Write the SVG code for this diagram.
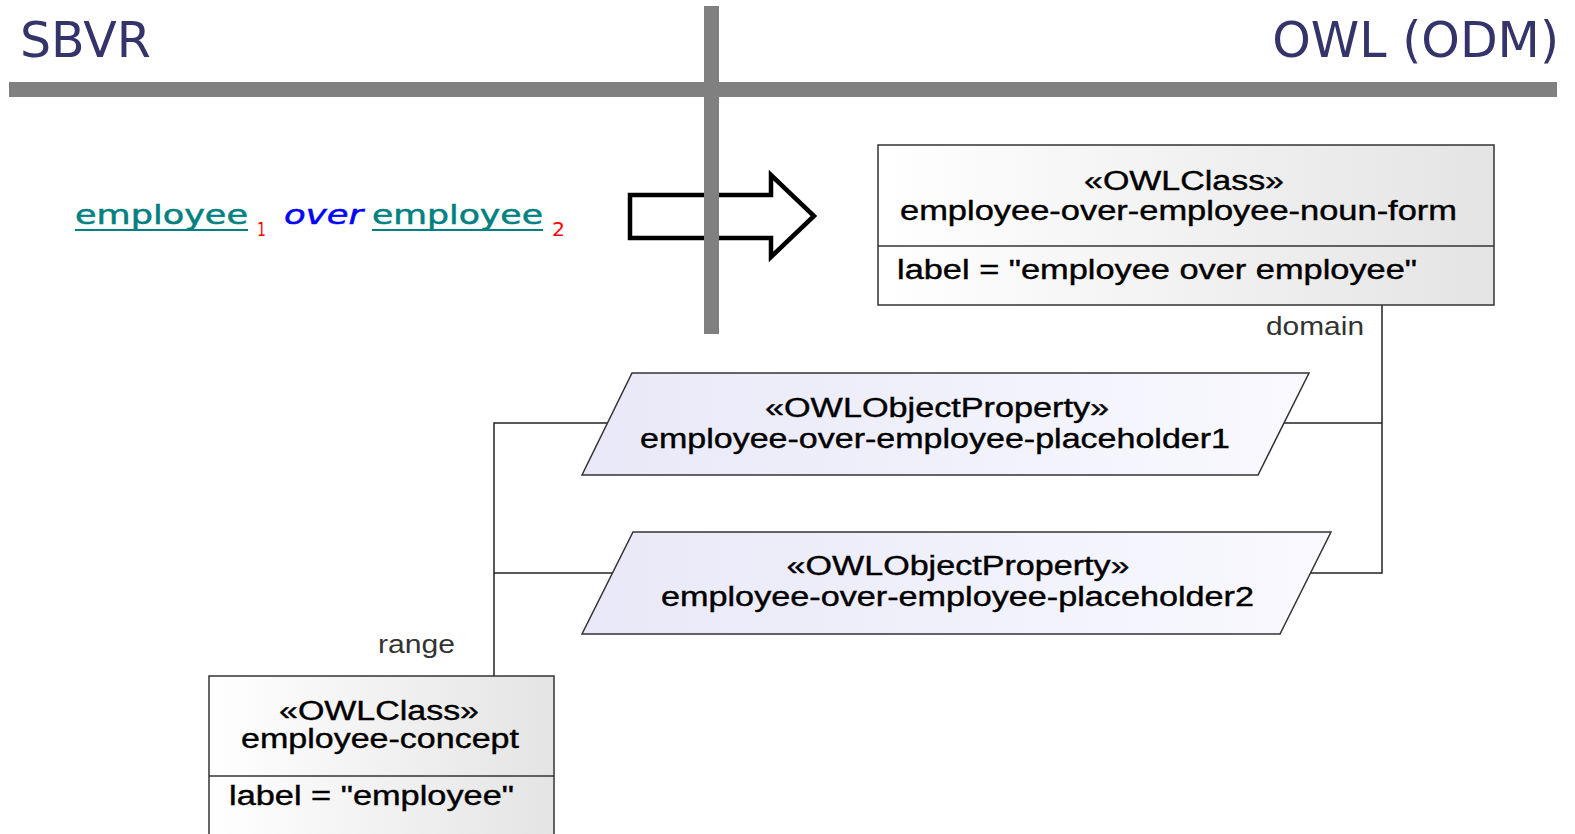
<svg xmlns="http://www.w3.org/2000/svg" width="1575" height="834" viewBox="0 0 1575 834">
<style>
.hdr{font-family:"DejaVu Sans",Verdana,sans-serif;font-size:49px;fill:#34346a}
.uml{font-family:"Liberation Sans",Arial,sans-serif;font-size:27px;fill:#000;stroke:#000;stroke-width:0.4}
.role{font-family:"Liberation Sans",Arial,sans-serif;font-size:25px;fill:#333}
.box{stroke:#333;stroke-width:1.5}
.conn{fill:none;stroke:#222;stroke-width:1.5}
.sb{font-family:"DejaVu Sans",Verdana,sans-serif;font-size:27px;stroke-width:0.5}
.sub{font-family:"DejaVu Sans",Verdana,sans-serif;font-size:20px;fill:#ff0000}
</style>
<defs>
<linearGradient id="gc" x1="0" y1="0" x2="1" y2="0">
<stop offset="0" stop-color="#ffffff"/>
<stop offset="1" stop-color="#e4e4e4"/>
</linearGradient>
<linearGradient id="gp" x1="0" y1="0" x2="1" y2="0">
<stop offset="0" stop-color="#e8e8f8"/>
<stop offset="1" stop-color="#f9f9fe"/>
</linearGradient>
</defs>

<g id="header">
<text class="hdr" x="20" y="57">SBVR</text>
<text class="hdr" x="1559" y="57" text-anchor="end">OWL (ODM)</text>
<rect x="9" y="82" width="1548" height="15" fill="#808080"/>
</g>

<g id="sbvr-expression">
<text class="sb" x="75" y="224" fill="#008080" stroke="#008080" textLength="173" lengthAdjust="spacingAndGlyphs">employee</text>
<line x1="75" y1="230" x2="248" y2="230" stroke="#008080" stroke-width="2"/>
<text class="sub" x="257" y="236" textLength="9" lengthAdjust="spacingAndGlyphs">1</text>
<text class="sb" x="284" y="224" fill="#0000ff" stroke="#0000ff" font-style="italic" textLength="79" lengthAdjust="spacingAndGlyphs">over</text>
<text class="sb" x="372" y="224" fill="#008080" stroke="#008080" textLength="171" lengthAdjust="spacingAndGlyphs">employee</text>
<line x1="372" y1="230" x2="543" y2="230" stroke="#008080" stroke-width="2"/>
<text class="sub" x="552" y="236" textLength="13" lengthAdjust="spacingAndGlyphs">2</text>
</g>

<g id="transform-arrow">
<path d="M630 195 H771 V175 L814 216 L771 257 V238 H630 Z" fill="#fff" stroke="#000" stroke-width="4.5" stroke-linejoin="miter"/>
</g>

<g id="divider">
<rect x="704" y="6" width="15" height="328" fill="#808080"/>
</g>

<g id="connectors">
<polyline class="conn" points="1382,305 1382,573 1308,573"/>
<line class="conn" x1="1283" y1="423" x2="1382" y2="423"/>
<polyline class="conn" points="607,423 494,423 494,676"/>
<line class="conn" x1="494" y1="573" x2="612" y2="573"/>
<text class="role" x="1364" y="335" text-anchor="end" textLength="98" lengthAdjust="spacingAndGlyphs">domain</text>
<text class="role" x="455" y="653" text-anchor="end" textLength="77" lengthAdjust="spacingAndGlyphs">range</text>
</g>

<g id="class-noun-form">
<rect class="box" x="878" y="145" width="616" height="160" fill="url(#gc)"/>
<line class="box" x1="878" y1="246" x2="1494" y2="246"/>
<text class="uml" x="1184" y="190" text-anchor="middle" textLength="200" lengthAdjust="spacingAndGlyphs">«OWLClass»</text>
<text class="uml" x="900" y="220" textLength="557" lengthAdjust="spacingAndGlyphs">employee-over-employee-noun-form</text>
<text class="uml" x="897" y="279" textLength="520" lengthAdjust="spacingAndGlyphs">label = "employee over employee"</text>
</g>

<g id="property-placeholder1">
<polygon class="box" points="632,373 1309,373 1258,475 582,475" fill="url(#gp)"/>
<text class="uml" x="937" y="417" text-anchor="middle" textLength="344" lengthAdjust="spacingAndGlyphs">«OWLObjectProperty»</text>
<text class="uml" x="640" y="448" textLength="590" lengthAdjust="spacingAndGlyphs">employee-over-employee-placeholder1</text>
</g>

<g id="property-placeholder2">
<polygon class="box" points="633,532 1331,532 1280,634 582,634" fill="url(#gp)"/>
<text class="uml" x="958" y="575" text-anchor="middle" textLength="343" lengthAdjust="spacingAndGlyphs">«OWLObjectProperty»</text>
<text class="uml" x="661" y="606" textLength="593" lengthAdjust="spacingAndGlyphs">employee-over-employee-placeholder2</text>
</g>

<g id="class-employee-concept">
<rect class="box" x="209" y="676" width="345" height="170" fill="url(#gc)"/>
<line class="box" x1="209" y1="776" x2="554" y2="776"/>
<text class="uml" x="379" y="720" text-anchor="middle" textLength="200" lengthAdjust="spacingAndGlyphs">«OWLClass»</text>
<text class="uml" x="241" y="748" textLength="278" lengthAdjust="spacingAndGlyphs">employee-concept</text>
<text class="uml" x="229" y="805" textLength="285" lengthAdjust="spacingAndGlyphs">label = "employee"</text>
</g>
</svg>
